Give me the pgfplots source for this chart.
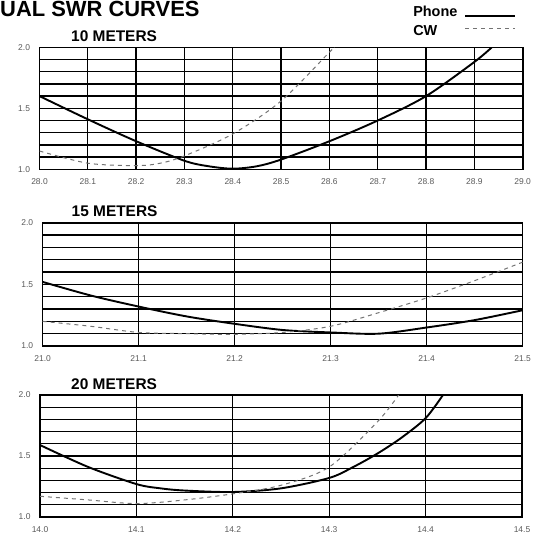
\documentclass[border=0pt]{standalone}
\usepackage{pgfplots}
\pgfplotsset{compat=1.18}
\usepackage{fontspec}
\setmainfont{Liberation Sans}

\pgfplotsset{
  swr/.style={
    scale only axis,
    anchor=south west,
    ymin=1, ymax=2,
    ytick={1,1.5,2},
    minor ytick={1.1,1.2,1.3,1.4,1.6,1.7,1.8,1.9},
    grid=both,
    major grid style={black, line width=1.3bp},
    minor grid style={black, line width=1.3bp},
    axis line style={black, line width=1.6bp},
    major tick length=0pt, minor tick length=0pt,
    scaled ticks=false,
    tick label style={font=\fontsize{8.5}{9}\selectfont, text=black!65,
      /pgf/number format/.cd, fixed, fixed zerofill, precision=1,
      assume math mode=true, /tikz/.cd},
    xticklabel style={yshift=-6bp},
    yticklabel style={xshift=-6bp},
  },
  phone/.style={black, line width=1.9bp, smooth,
    legend image code/.code={\path[draw=none, fill=none] (0bp,-6bp) rectangle (56bp,13bp);
      \draw[##1] (6bp,-4bp) -- (56bp,-4bp);}},
  cw/.style={black!55, line width=1bp, dash pattern=on 4bp off 4bp, smooth,
    legend image code/.code={\path[draw=none, fill=none] (0bp,-6bp) rectangle (56bp,13bp);
      \draw[##1] (6bp,3bp) -- (56bp,3bp);}},
}

\begin{document}
\begin{tikzpicture}
\path[use as bounding box] (0,0) rectangle (540bp,-539bp);

% 10 meters
\begin{axis}[swr, at={(39.5bp,-169.3bp)}, width=483.2bp, height=122bp,
  xmin=28, xmax=29,
  xtick={28,28.1,28.2,28.3,28.4,28.5,28.6,28.7,28.8,28.9,29},
  legend plot pos=right,
  legend style={at={(0.769,1.395)}, anchor=north west, draw=none, fill=none,
    inner sep=0pt, row sep=-2bp, cells={anchor=west},
    font=\bfseries\fontsize{14.5}{16}\selectfont},
]
\addplot[phone] coordinates {
  (28.0,1.60)(28.1,1.41)(28.2,1.23)(28.3,1.07)(28.35,1.025)(28.4,1.005)
  (28.45,1.025)(28.5,1.08)(28.6,1.23)(28.7,1.40)(28.8,1.60)(28.9,1.88)(28.936,2.0)
};
\addlegendentry{Phone}
\addplot[cw] coordinates {
  (28.0,1.15)(28.1,1.05)(28.2,1.03)(28.25,1.05)(28.3,1.11)(28.4,1.29)
  (28.5,1.56)(28.6,1.96)(28.61,2.0)
};
\addlegendentry{CW}
\end{axis}

% 15 meters
\begin{axis}[swr, at={(42.6bp,-346bp)}, width=480bp, height=123.3bp,
  xmin=21, xmax=21.5,
  xtick={21,21.1,21.2,21.3,21.4,21.5},
]
\addplot[phone] coordinates {
  (21.0,1.52)(21.05,1.41)(21.1,1.32)(21.15,1.24)(21.2,1.18)(21.25,1.13)
  (21.3,1.11)(21.35,1.10)(21.4,1.15)(21.45,1.21)(21.5,1.29)
};
\addplot[cw] coordinates {
  (21.0,1.20)(21.05,1.16)(21.1,1.11)(21.15,1.10)(21.2,1.095)(21.25,1.11)
  (21.3,1.16)(21.35,1.27)(21.4,1.39)(21.45,1.53)(21.5,1.68)
};
\end{axis}

% 20 meters
\begin{axis}[swr, at={(40bp,-517bp)}, width=482bp, height=122bp,
  xmin=14, xmax=14.5,
  xtick={14,14.1,14.2,14.3,14.4,14.5},
]
\addplot[phone] coordinates {
  (14.0,1.59)(14.05,1.41)(14.1,1.27)(14.125,1.235)(14.15,1.217)(14.2,1.205)
  (14.25,1.235)(14.3,1.32)(14.325,1.41)(14.35,1.52)(14.375,1.65)(14.4,1.81)(14.418,2.0)
};
\addplot[cw] coordinates {
  (14.0,1.17)(14.05,1.14)(14.1,1.11)(14.15,1.14)(14.2,1.19)(14.25,1.26)
  (14.3,1.41)(14.35,1.78)(14.372,2.0)
};
\end{axis}

\node[anchor=base west, inner sep=0, font=\bfseries\fontsize{22}{24}\selectfont]
  at (0bp,-16.5bp) {UAL SWR CURVES};
\node[anchor=base west, inner sep=0, font=\bfseries\fontsize{15.5}{17}\selectfont]
  at (71bp,-41bp) {10 METERS};
\node[anchor=base west, inner sep=0, font=\bfseries\fontsize{15.5}{17}\selectfont]
  at (71.5bp,-216.7bp) {15 METERS};
\node[anchor=base west, inner sep=0, font=\bfseries\fontsize{15.5}{17}\selectfont]
  at (71bp,-389bp) {20 METERS};
\end{tikzpicture}
\end{document}
